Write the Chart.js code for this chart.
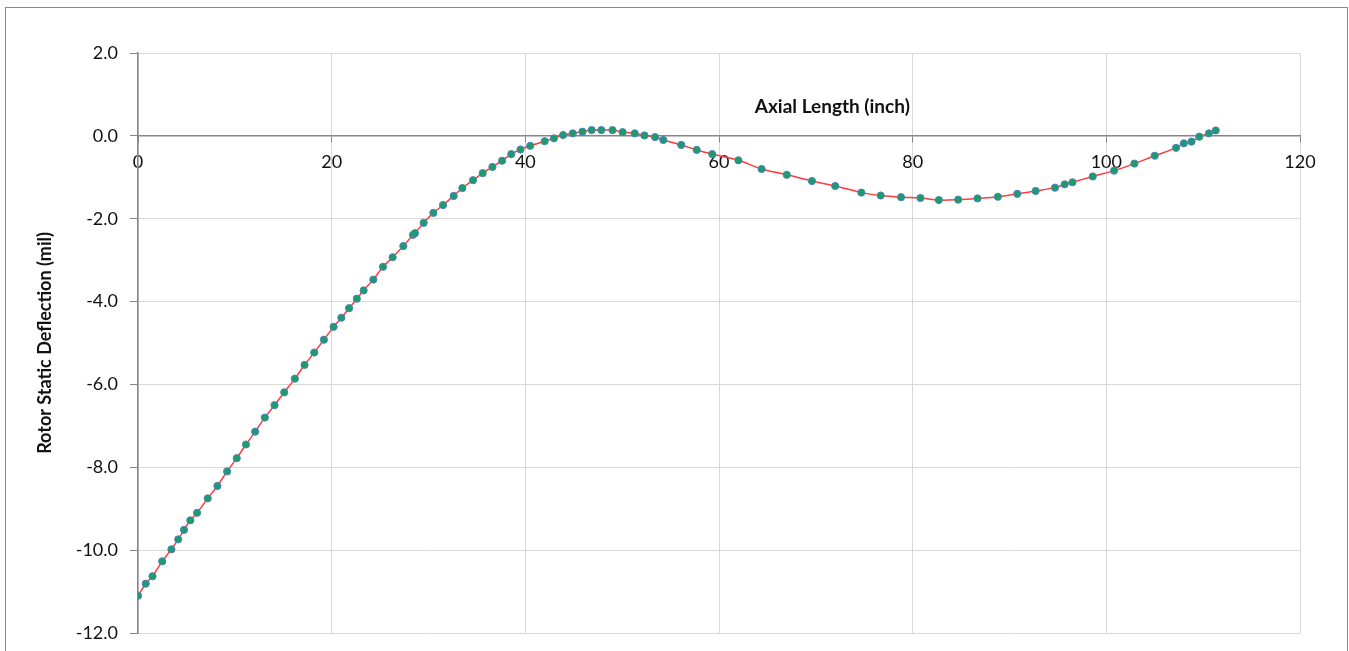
<!DOCTYPE html>
<html>
<head>
<meta charset="utf-8">
<script src="https://cdn.jsdelivr.net/npm/chart.js@4.4.0/dist/chart.umd.min.js"></script>
<style>
  html, body { margin: 0; padding: 0; background: #fff; overflow: hidden; }
  #frame { position: absolute; left: 5px; top: 7px; width: 1341px; height: 700px; border: 1px solid #8a8a8a; }
  #chart { position: absolute; left: 0; top: 0; }
</style>
</head>
<body>
<div id="frame"><canvas id="chart" width="1340" height="643"></canvas></div>
<script>
// axial positions along the rotor (inch)
const axialLength = [
  0.0, 0.8, 1.5, 2.5, 3.45, 4.15, 4.75, 5.4, 6.1, 7.2, 8.2, 9.2, 10.2, 11.15, 12.1, 13.1, 14.1, 15.1,
  16.2, 17.2, 18.2, 19.2, 20.2, 21.0, 21.8, 22.6, 23.3, 24.3, 25.3, 26.3, 27.4, 28.4, 28.6, 29.5,
  30.5, 31.5, 32.6, 33.5, 34.6, 35.6, 36.6, 37.6, 38.55, 39.5, 40.5, 42.0, 42.95, 43.9, 44.9, 45.9,
  46.85, 47.85, 49.0, 50.05, 51.3, 52.3, 53.4, 54.25, 56.1, 57.7, 59.3, 62.0, 64.4, 67.0, 69.6, 72.0,
  74.7, 76.7, 78.8, 80.8, 82.7, 84.7, 86.7, 88.8, 90.8, 92.7, 94.7, 95.7, 96.5, 98.6, 100.8, 102.9,
  105.0, 107.2, 108.0, 108.8, 109.6, 110.6, 111.3
];
// static deflection (mil)
const deflection = [
  -11.1, -10.81, -10.63, -10.27, -9.98, -9.74, -9.51, -9.28, -9.1, -8.75, -8.45, -8.1, -7.78, -7.45, -7.14, -6.8, -6.5, -6.19,
  -5.86, -5.53, -5.23, -4.92, -4.61, -4.39, -4.16, -3.93, -3.73, -3.47, -3.16, -2.93, -2.66, -2.39, -2.35, -2.10,
  -1.86, -1.67, -1.45, -1.26, -1.07, -0.90, -0.75, -0.60, -0.44, -0.33, -0.24, -0.13, -0.06, 0.02, 0.06, 0.10,
  0.14, 0.14, 0.14, 0.09, 0.06, 0.01, -0.03, -0.10, -0.22, -0.34, -0.44, -0.59, -0.80, -0.94, -1.09, -1.21,
  -1.37, -1.44, -1.48, -1.50, -1.55, -1.54, -1.51, -1.47, -1.40, -1.33, -1.25, -1.17, -1.12, -0.98, -0.84, -0.67,
  -0.48, -0.29, -0.18, -0.14, -0.02, 0.06, 0.13
];
const xTicks = [0, 20, 40, 60, 80, 100, 120];
const yTicks = [2, 0, -2, -4, -6, -8, -10, -12];
const xTitle = 'Axial Length (inch)';
const yTitle = 'Rotor Static Deflection (mil)';

const points = axialLength.map((x, i) => ({x: x, y: deflection[i]}));

// the x title sits above the axis line, inside the plot
const xTitlePlugin = {
  id: 'xTitle',
  afterDraw(chart) {
    const ctx = chart.ctx;
    const px = chart.scales.x.getPixelForValue(71.7);
    const py = chart.scales.y.getPixelForValue(0.7);
    ctx.save();
    ctx.font = 'bold 19px Lato';
    ctx.fillStyle = '#111';
    ctx.textAlign = 'center';
    ctx.textBaseline = 'middle';
    ctx.fillText(xTitle, px, py);
    ctx.restore();
  }
};

new Chart(document.getElementById('chart').getContext('2d'), {
  type: 'scatter',
  data: {
    datasets: [{
      data: points,
      showLine: true,
      borderColor: '#ff3b3b',
      borderWidth: 1.5,
      tension: 0.3,
      pointRadius: 3.6,
      pointBorderWidth: 1,
      pointBorderColor: '#4f81bd',
      pointBackgroundColor: '#1e9b6b'
    }]
  },
  options: {
    responsive: false,
    animation: false,
    layout: {padding: {top: 45, right: 46, bottom: 18, left: 0}},
    plugins: {legend: {display: false}, tooltip: {enabled: false}},
    scales: {
      x: {
        type: 'linear',
        position: {y: 0},
        min: 0, max: 120,
        afterBuildTicks: s => { s.ticks = xTicks.map(v => ({value: v})); },
        ticks: {color: '#111', font: {family: 'Lato', size: 18}, padding: 10, maxRotation: 0},
        grid: {color: '#d9d9d9', tickColor: '#868686', tickLength: 6},
        border: {color: '#868686', width: 1.5}
      },
      y: {
        type: 'linear',
        min: -12, max: 2,
        afterBuildTicks: s => { s.ticks = yTicks.map(v => ({value: v})); },
        afterFit: s => { s.width = 132; s.paddingTop = 0; s.paddingBottom = 0; },
        ticks: {color: '#111', font: {family: 'Lato', size: 18}, padding: 12, callback: v => v.toFixed(1)},
        grid: {color: '#d9d9d9', tickColor: '#868686', tickLength: 8},
        border: {color: '#868686', width: 1.5},
        title: {display: true, text: yTitle, color: '#111', font: {family: 'Lato', size: 18, weight: 'bold'}, padding: {top: 28, bottom: 0}}
      }
    }
  },
  plugins: [xTitlePlugin]
});
</script>
</body>
</html>
